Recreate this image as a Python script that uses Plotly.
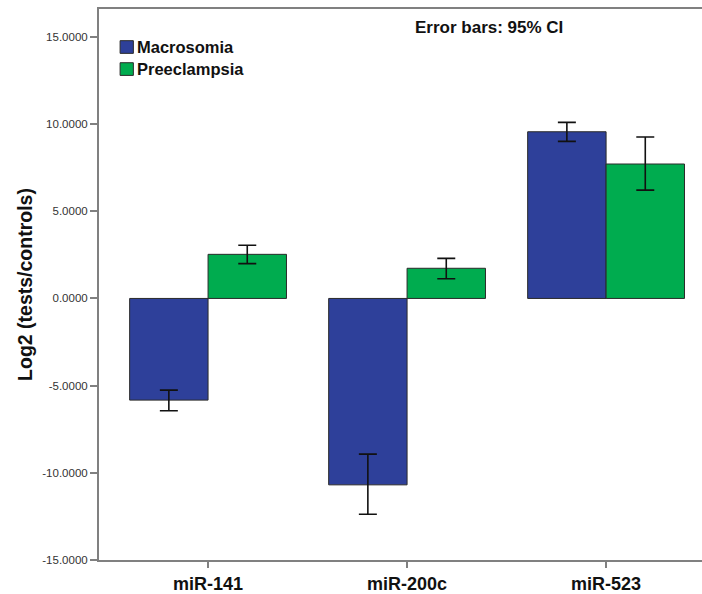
import plotly.graph_objects as go

# Data: log2 ratio (tests/controls) with 95% CI bounds
categories = ["miR-141", "miR-200c", "miR-523"]
macrosomia = [-5.83, -10.69, 9.56]
macrosomia_ci_hi = [-5.26, -8.93, 10.10]
macrosomia_ci_lo = [-6.44, -12.38, 9.01]
preeclampsia = [2.53, 1.73, 7.71]
preeclampsia_ci_hi = [3.05, 2.30, 9.26]
preeclampsia_ci_lo = [2.00, 1.13, 6.21]

ytick_vals = [-15, -10, -5, 0, 5, 10, 15]
ytick_text = ["-15.0000", "-10.0000", "-5.0000", "0.0000", "5.0000", "10.0000", "15.0000"]

BLUE = "#2E409A"
GREEN = "#00AC4F"
FONT = "Liberation Sans, Arial, sans-serif"


def err(vals, hi, lo):
    return dict(
        type="data",
        symmetric=False,
        array=[h - v for v, h in zip(vals, hi)],
        arrayminus=[v - l for v, l in zip(vals, lo)],
        color="#111111",
        thickness=1.6,
        width=9,
    )


fig = go.Figure()
fig.add_trace(go.Bar(
    x=categories, y=macrosomia, name="Macrosomia",
    marker=dict(color=BLUE, line=dict(color="#2a2a2a", width=1)),
    error_y=err(macrosomia, macrosomia_ci_hi, macrosomia_ci_lo),
))
fig.add_trace(go.Bar(
    x=categories, y=preeclampsia, name="Preeclampsia",
    marker=dict(color=GREEN, line=dict(color="#2a2a2a", width=1)),
    error_y=err(preeclampsia, preeclampsia_ci_hi, preeclampsia_ci_lo),
))

# Legend drawn as boxes and labels in paper coordinates
legend_items = [("Macrosomia", BLUE), ("Preeclampsia", GREEN)]
for i, (label, color) in enumerate(legend_items):
    yc = 0.931 - i * 0.040
    fig.add_shape(type="rect", xref="paper", yref="paper",
                  x0=0.035, x1=0.057, y0=yc - 0.0115, y1=yc + 0.0115,
                  fillcolor=color, line=dict(color="#2a2a2a", width=1))
    fig.add_annotation(text="<b>%s</b>" % label, xref="paper", yref="paper",
                       x=0.060, y=yc, xanchor="left", yanchor="middle",
                       showarrow=False, font=dict(family=FONT, size=16.5, color="#111111"))

fig.add_annotation(text="<b>Error bars: 95% CI</b>", xref="paper", yref="paper",
                   x=0.647, y=0.967, xanchor="center", yanchor="middle",
                   showarrow=False, font=dict(family=FONT, size=17, color="#111111"))

fig.update_layout(
    width=702, height=594,
    margin=dict(l=99, r=0, t=9, b=32),
    paper_bgcolor="white", plot_bgcolor="white",
    barmode="group", bargap=0.212, bargroupgap=0,
    showlegend=False,
    font=dict(family=FONT, color="#111111"),
)
fig.update_xaxes(
    range=[-0.548, 2.482],
    showline=True, linecolor="#808080", linewidth=2, mirror=True,
    ticks="outside", ticklen=6, tickwidth=2, tickcolor="#808080",
    showgrid=False, zeroline=False,
    tickfont=dict(family=FONT, size=18, color="#111111"),
    tickprefix="<b>", ticksuffix="</b>",
)
fig.update_yaxes(
    range=[-15, 16.6],
    tickvals=ytick_vals, ticktext=ytick_text,
    showline=True, linecolor="#808080", linewidth=2,
    ticks="outside", ticklen=7, tickwidth=2, tickcolor="#808080",
    showgrid=False, zeroline=False,
    tickfont=dict(family=FONT, size=11.5, color="#333333"),
    title=dict(text="<b>Log2 (tests/controls)</b>", standoff=4,
               font=dict(family=FONT, size=19.5, color="#111111")),
)

fig.write_html("out.html")
